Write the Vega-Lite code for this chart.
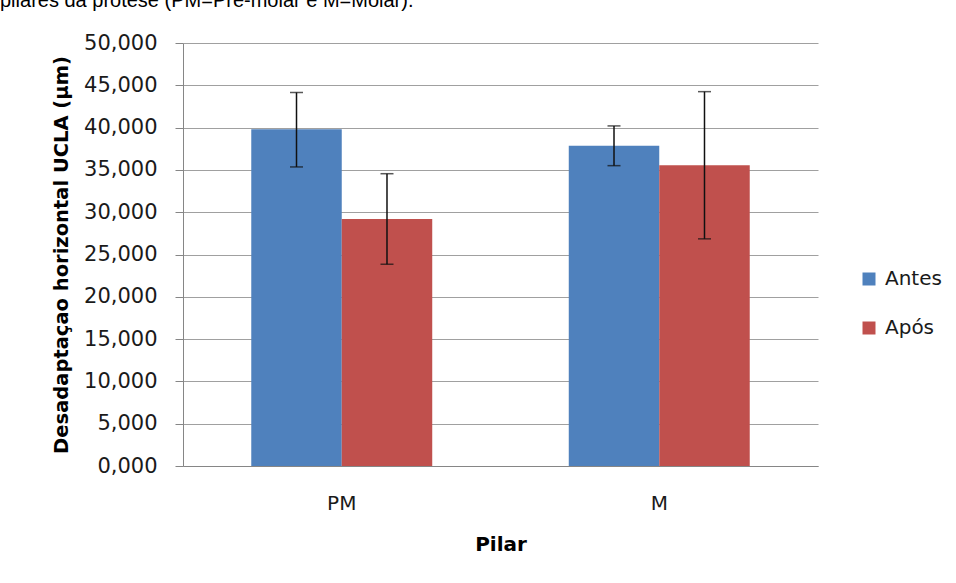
{
  "$schema": "https://vega.github.io/schema/vega-lite/v6.json",
  "width": 635,
  "height": 423,
  "autosize": {"type": "none"},
  "padding": {"left": 183, "top": 43, "right": 138, "bottom": 117},
  "background": "white",
  "title": {
    "text": "pilares da prótese (PM=Pré-molar e M=Molar).",
    "anchor": "start",
    "frame": "group",
    "dx": -183,
    "offset": 10,
    "dy": -11,
    "font": "Liberation Sans",
    "fontSize": 20,
    "fontWeight": "normal",
    "color": "black"
  },
  "config": {"font": "DejaVu Sans", "view": {"stroke": null}},
  "data": {
    "values": [
      {"Pilar": "PM", "Grupo": "Antes", "media": 39.8, "lo": 35.35, "hi": 44.15},
      {"Pilar": "PM", "Grupo": "Após", "media": 29.2, "lo": 23.85, "hi": 34.55},
      {"Pilar": "M", "Grupo": "Antes", "media": 37.85, "lo": 35.5, "hi": 40.2},
      {"Pilar": "M", "Grupo": "Após", "media": 35.55, "lo": 26.85, "hi": 44.25}
    ]
  },
  "encoding": {
    "x": {
      "field": "Pilar",
      "type": "nominal",
      "sort": ["PM", "M"],
      "scale": {"paddingInner": 0.43, "paddingOuter": 0.215},
      "axis": {
        "title": "Pilar",
        "labelAngle": 0,
        "labelFontSize": 20,
        "labelColor": "#1a1a1a",
        "labelPadding": 27,
        "ticks": false,
        "tickSize": 0,
        "domainColor": "#868686",
        "titleFontSize": 20,
        "titleFontWeight": "bold",
        "titleColor": "black",
        "titlePadding": 21
      }
    },
    "xOffset": {"field": "Grupo", "sort": ["Antes", "Após"], "scale": {"paddingInner": 0, "paddingOuter": 0}}
  },
  "layer": [
    {
      "mark": {"type": "bar"},
      "encoding": {
        "y": {
          "field": "media",
          "type": "quantitative",
          "title": "Desadaptaçao horizontal UCLA (µm)",
          "scale": {"domain": [0, 50], "nice": false},
          "axis": {
            "title": "Desadaptaçao horizontal UCLA (µm)",
            "values": [0, 5, 10, 15, 20, 25, 30, 35, 40, 45, 50],
            "labelExpr": "replace(format(datum.value, '.3f'), '.', ',')",
            "labelFontSize": 21,
            "labelColor": "#1a1a1a",
            "labelPadding": 18,
            "tickSize": 8,
            "tickColor": "#868686",
            "domainColor": "#868686",
            "gridColor": "#A0A0A0",
            "titleFontSize": 19.5,
            "titleFontWeight": "bold",
            "titleColor": "black",
            "titlePadding": 12
          }
        },
        "color": {
          "field": "Grupo",
          "type": "nominal",
          "sort": ["Antes", "Após"],
          "scale": {"domain": ["Antes", "Após"], "range": ["#4F81BD", "#C0504D"]},
          "legend": {
            "title": null,
            "orient": "none",
            "legendX": 676,
            "legendY": 226,
            "symbolType": "square",
            "symbolSize": 169,
            "symbolStrokeWidth": 0,
            "labelFontSize": 20,
            "labelColor": "#1a1a1a",
            "labelOffset": 6,
            "rowPadding": 29
          }
        }
      }
    },
    {
      "mark": {"type": "rule", "color": "#111111", "strokeWidth": 1.5},
      "encoding": {
        "y": {"field": "lo", "type": "quantitative", "title": "Desadaptaçao horizontal UCLA (µm)"},
        "y2": {"field": "hi"}
      }
    },
    {
      "mark": {"type": "tick", "color": "#111111", "size": 13, "thickness": 1.5},
      "encoding": {"y": {"field": "lo", "type": "quantitative", "title": "Desadaptaçao horizontal UCLA (µm)"}}
    },
    {
      "mark": {"type": "tick", "color": "#111111", "size": 13, "thickness": 1.5},
      "encoding": {"y": {"field": "hi", "type": "quantitative", "title": "Desadaptaçao horizontal UCLA (µm)"}}
    }
  ]
}
